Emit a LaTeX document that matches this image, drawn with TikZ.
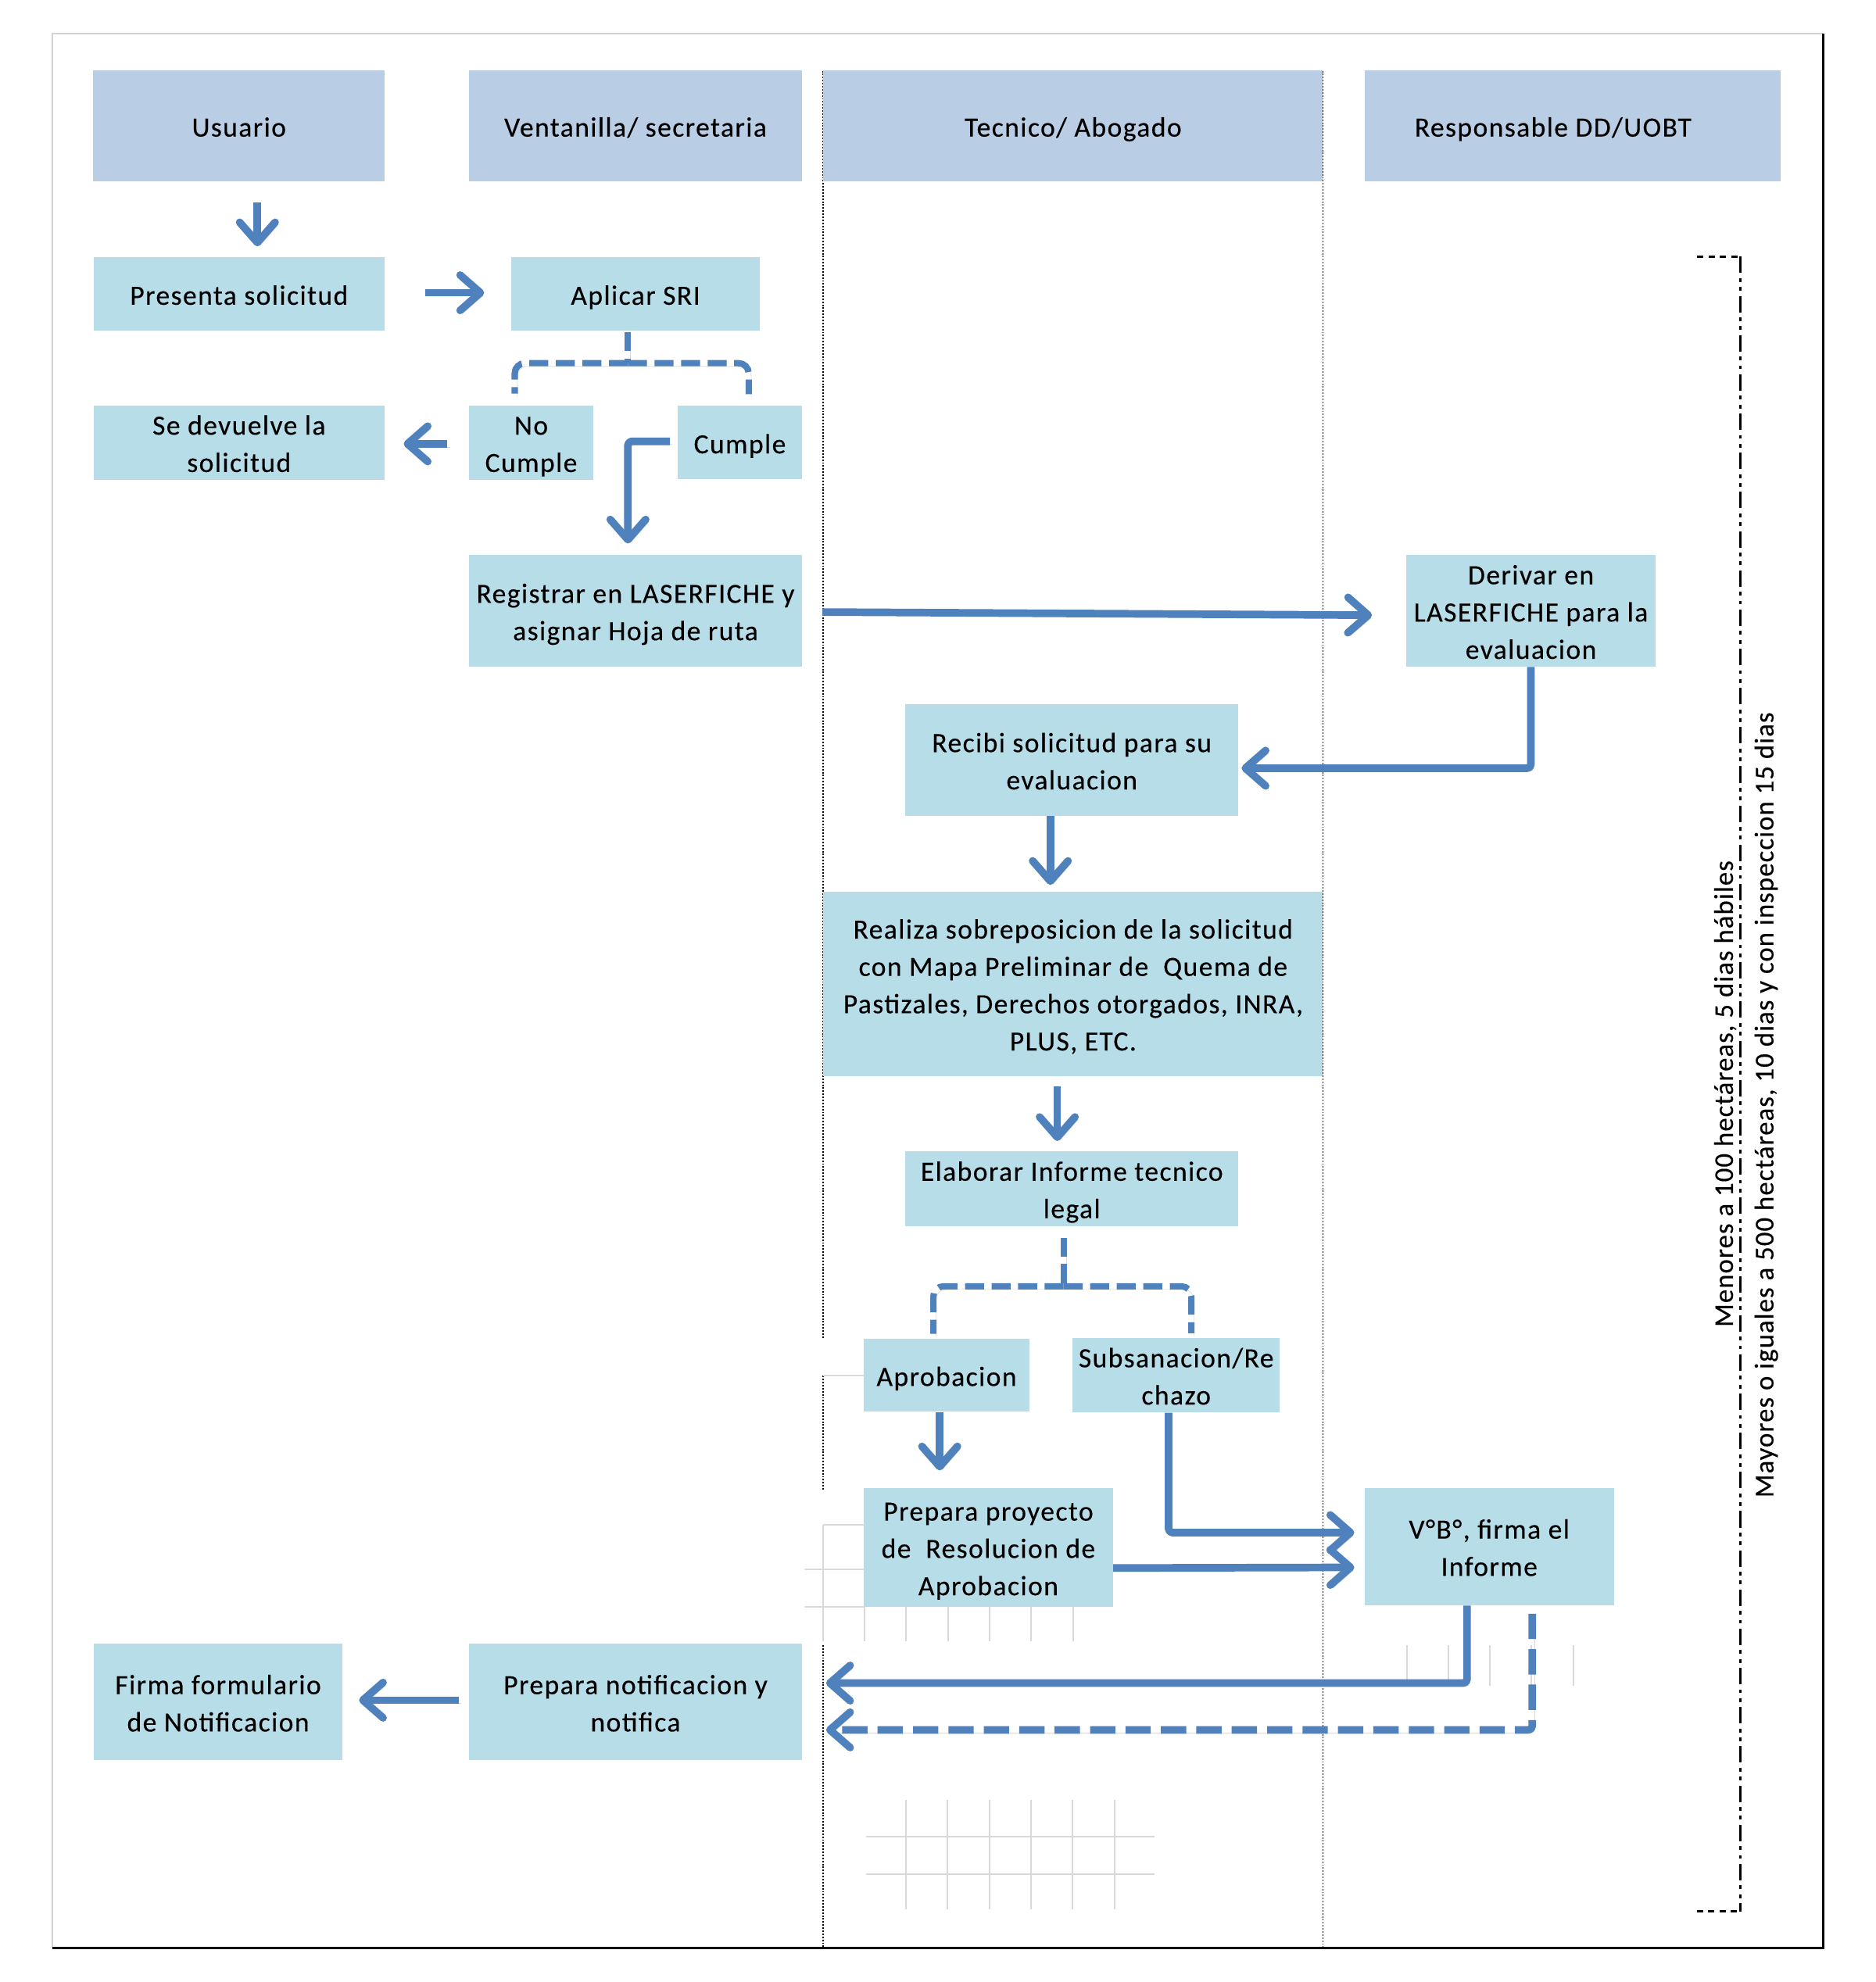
\documentclass[tikz,border=0pt]{standalone}
\usepackage{fontspec}
\setmainfont{Carlito}[LetterSpace=4,FakeBold=0.3]
\newfontfamily\rotfont{Carlito}[LetterSpace=3,FakeBold=0.3]
\usetikzlibrary{arrows.meta,calc}
\definecolor{hdr}{RGB}{185,205,228}
\definecolor{pbx}{RGB}{183,221,232}
\definecolor{arr}{RGB}{79,129,189}
\definecolor{gridc}{RGB}{217,217,217}
\newcommand{\tstr}{\rule{0pt}{23.25pt}}
\begin{document}
\begin{tikzpicture}[x=1pt,y=-1pt,
  every node/.style={font=\fontsize{22}{29.5}\selectfont, align=center, inner sep=0pt,
    execute at begin node={\rule{0pt}{23.25pt}},
    execute at end node={\rule[-6.25pt]{0pt}{6.25pt}}},
  hbox/.style={fill=hdr, minimum height=88pt},
  pbox/.style={fill=pbx},
  shad/.style={preaction={draw=black!15, transform canvas={shift={(2pt,-2.5pt)}}}},
  conn/.style={draw=arr, line width=6pt, line join=round, shad,
    -{Straight Barb[round,length=16pt,width=28pt]}},
  dconn/.style={conn, dash pattern=on 20pt off 8pt},
  brk/.style={draw=arr, line width=5pt, dash pattern=on 15pt off 6pt, rounded corners=8pt, shad},
  lane/.style={draw=black, line width=1.1pt, dash pattern=on 1.2pt off 1.2pt},
  gridl/.style={draw=gridc, line width=1.2pt},
  tbrk/.style={draw=black, line width=1.6pt}
]
\useasboundingbox (0,0) rectangle (1483.3,1567.4);
\fill[white] (0,0) rectangle (1483.3,1567.4);

% frame
\draw[gray!35, line width=1.2pt] (1441.5,26.8) -- (41.4,26.8) -- (41.4,1540.6);
\draw[black, line width=2pt] (41.4,1540.6) -- (1441.5,1540.6) -- (1441.5,26.8);

% lane separators
\draw[lane] (651,56) -- (651,1059);
\draw[lane] (651,1088) -- (651,1178);
\draw[lane] (651,1301) -- (651,1540);
\draw[lane] (1046,56) -- (1046,1540);

% faint grid artefacts
\draw[gridl] (651,1088) -- (683,1088);
\draw[gridl] (651,1206) -- (651,1298);
\draw[gridl] (651,1206) -- (683,1206);
\draw[gridl] (636,1241) -- (683,1241);
\draw[gridl] (636,1270.7) -- (683,1270.7);
\foreach \gx in {683.6,716.5,749.5,782.5,815.3,848.4}
  \draw[gridl] (\gx,1270.7) -- (\gx,1298);
\foreach \gx in {716.3,749.3,782.2,815.2,848.1,881.1}
  \draw[gridl] (\gx,1423.5) -- (\gx,1510);
\draw[gridl] (685,1452.4) -- (912.6,1452.4);
\draw[gridl] (685,1481.8) -- (912.6,1481.8);
\foreach \gx in {1112.5,1145.3,1178,1211,1244}
  \draw[gridl] (\gx,1301) -- (\gx,1333);

% headers
\node[hbox, minimum width=230.5pt] (hUsu) at (189,99.5) {Usuario};
\node[hbox, minimum width=263pt] (hVen) at (502.5,99.5) {Ventanilla/ secretaria};
\node[hbox, minimum width=395pt] (hTec) at (848.5,99.5) {Tecnico/ Abogado};
\node[hbox, minimum width=329pt] (hRes) at (1243.5,99.5) {Responsable DD/UOBT\hspace*{31pt}};

% process boxes
\node[pbox, minimum width=230pt, minimum height=58pt] (pres) at (189,232.5) {Presenta solicitud};
\node[pbox, minimum width=197pt, minimum height=58pt] (sri) at (502.5,232.5) {Aplicar SRI};
\node[pbox, minimum width=230pt, minimum height=58pt] (devu) at (189,350) {\tstr Se devuelve la\\solicitud};
\node[pbox, minimum width=98pt, minimum height=58pt] (nocu) at (420,350) {\tstr No\\Cumple};
\node[pbox, minimum width=98pt, minimum height=58pt] (cump) at (585,350) {Cumple};
\node[pbox, minimum width=263pt, minimum height=88pt] (regi) at (502.5,483) {\tstr Registrar en LASERFICHE y\\asignar Hoja de ruta};
\node[pbox, minimum width=197pt, minimum height=88pt] (deri) at (1210.5,483) {\tstr Derivar en\\LASERFICHE para la\\evaluacion};
\node[pbox, minimum width=263pt, minimum height=88pt] (reci) at (847.5,601) {\tstr Recibi solicitud para su\\evaluacion};
\node[pbox, minimum width=395pt, minimum height=146pt] (real) at (848.5,778) {\tstr Realiza sobreposicion de la solicitud\\con Mapa Preliminar de\ \ Quema de\\Pastizales, Derechos otorgados, INRA,\\PLUS, ETC.};
\node[pbox, minimum width=263pt, minimum height=58pt] (elab) at (847.5,940) {\tstr Elaborar Informe tecnico\\legal};
\node[pbox, minimum width=131pt, minimum height=58pt] (apro) at (748.5,1087.5) {Aprobacion};
\node[pbox, minimum width=164pt, minimum height=58pt] (subs) at (930,1087.5) {\tstr Subsanacion/Re\\chazo};
\node[pbox, minimum width=197pt, minimum height=94pt] (prep) at (781.5,1223.5) {\tstr Prepara proyecto\\de\ \ Resolucion de\\Aprobacion};
\node[pbox, minimum width=197pt, minimum height=93pt] (vobo) at (1177.5,1223) {\tstr V°B°, firma el\\Informe};
\node[pbox, minimum width=197pt, minimum height=92pt] (firm) at (172.5,1346) {\tstr Firma formulario\\de Notificacion};
\node[pbox, minimum width=263pt, minimum height=92pt] (noti) at (502.5,1346) {\tstr Prepara notificacion y\\notifica};

% connectors
\draw[conn] ($(hUsu.south)+(14.5,16.5)$) -- ($(pres.north)+(14.5,-8.5)$);
\draw[conn] ($(pres.east)+(32,-1)$) -- ($(sri.west)+(-21,-1)$);
\coordinate (b1) at ($(sri.south)+(-6,25.5)$);
\draw[brk] ($(sri.south)+(-6,1)$) -- (b1);
\draw[brk] (b1) -| ($(nocu.north)+(-13,-9)$);
\draw[brk] (b1) -| ($(cump.north)+(7,-9)$);
\draw[conn] ($(nocu.west)+(-17,1)$) -- ($(devu.east)+(15,1)$);
\draw[conn, rounded corners=3pt] ($(cump.west)+(-6,-1)$) -| ($(regi.north)+(-6,-9)$);
\draw[conn] ($(regi.east)+(16,1)$) -- ($(deri.west)+(-27,3.5)$);
\draw[conn, rounded corners=3pt] (deri.south) |- ($(reci.east)+(2.5,6.5)$);
\draw[conn] ($(reci.south)+(-17,0)$) -- ($(real.north)+(-18,-5)$);
\draw[conn] ($(real.south)+(-12.5,8)$) -- ($(elab.north)+(-11.5,-8)$);
\coordinate (b2) at ($(elab.south)+(-6.5,47.5)$);
\draw[brk] ($(elab.south)+(-6.5,9)$) -- (b2);
\draw[brk] (b2) -| ($(apro.north)+(-10.5,-3.5)$);
\draw[brk] (b2) -| ($(subs.north)+(12,-3.5)$);
\draw[conn] ($(apro.south)+(-5.5,0)$) -- ($(prep.north)+(-38.5,-13.5)$);
\draw[conn, rounded corners=3pt] ($(subs.south)+(-6,0)$) |- ($(vobo.west)+(-8,-11)$);
\draw[conn] ($(prep.east)+(0,16.5)$) -- ($(vobo.west)+(-8,16.5)$);
\draw[conn, rounded corners=3pt] ($(vobo.south)+(-17.5,0)$) |- ($(noti.east)+(19,-15)$);
\draw[dconn, rounded corners=3pt] ($(vobo.south)+(34,6.5)$) |- ($(noti.east)+(19,22)$);
\draw[conn] ($(noti.west)+(-8,-1.5)$) -- ($(firm.east)+(12.7,-1.5)$);

% time bracket on the right
\draw[tbrk, dash pattern=on 5pt off 4pt] (1341.8,203) -- (1376,203);
\draw[tbrk, dash pattern=on 13pt off 4pt on 3pt off 4pt on 3pt off 4pt] (1376,203) -- (1376,1511.5);
\draw[tbrk, dash pattern=on 5pt off 4pt] (1341.6,1511.5) -- (1376,1511.5);
\node[rotate=90, font=\rotfont\fontsize{21.5}{29.5}\selectfont] (t1) at (1361.7,865) {Menores a 100 hectáreas, 5 dias hábiles};
\node[rotate=90, font=\rotfont\fontsize{21.5}{29.5}\selectfont] (t2) at (1393.7,873.8) {Mayores o iguales a 500 hectáreas, 10 dias y con inspeccion 15 dias};
\end{tikzpicture}
\end{document}
